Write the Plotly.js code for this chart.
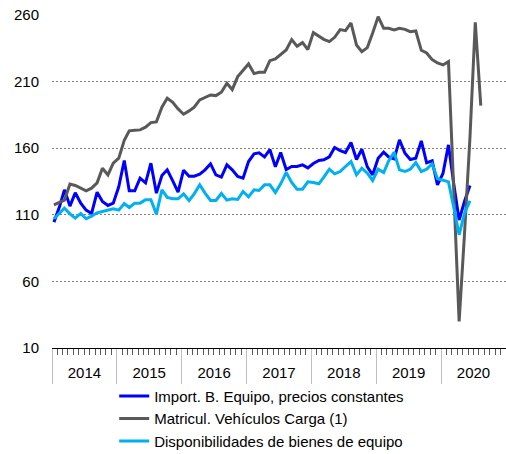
<!DOCTYPE html>
<html>
<head>
<meta charset="utf-8">
<script src="https://cdn.plot.ly/plotly-3.0.1.min.js"></script>
<style>
  html, body { margin: 0; padding: 0; background: #fff; }
  #chart { width: 506px; height: 454px; }
</style>
</head>
<body>
<div id="chart"></div>
<script>
// monthly series, Jan 2014 onwards
var importEquipo = [
    104.5, 116, 128.75, 116.5, 126.5, 118.75, 113.5, 111, 127, 120, 117, 118.75,
    131, 150.75, 128, 128, 137.5, 134, 148.75, 126.25, 139.5, 143.75, 135.5, 127,
    143.5, 139, 139, 140.5, 143.75, 148.25, 140, 138.25, 147.5, 143.75, 138.75, 137.5,
    150, 155.75, 156.5, 153.5, 159, 146, 156.75, 144, 146.25, 146.25, 147.5, 145.25,
    148.5, 150.75, 151.25, 153.5, 160.5, 158.25, 156.75, 164.25, 151.5, 159.25, 146, 140,
    152.5, 157, 153.5, 152, 166.25, 156.25, 151.5, 152.5, 165.5, 149, 150.5, 132.5,
    141, 162.5, 134, 106, 120, 132
];

var matriculCarga = [
    117.5, 119.5, 121, 133, 132, 130, 128, 130, 134, 145, 140, 148.75,
    152.5, 166, 173, 173.5, 173.75, 175.75, 179.25, 179.75, 190.75, 197.5, 194.5, 189.5,
    185.5, 188, 190.75, 196.25, 198, 200, 199.5, 202, 208.75, 204, 213.75, 218.75,
    223.25, 216, 217, 217, 225.75, 227, 230.5, 233.75, 241.5, 236.5, 239.25, 234,
    246.75, 244.25, 241.75, 240, 243.25, 249, 248.25, 254, 237.5, 232.5, 235.5, 246.5,
    258.75, 250, 250, 248.75, 250, 249.25, 247.5, 248, 233.5, 231.5, 226.5, 224,
    222.5, 225, 128, 30, 95, 168, 254.5, 192
];

var dispEquipo = [
    107, 111, 115, 110.75, 107.5, 111, 107, 109, 111.5, 112.5, 113.75, 114.5,
    113.5, 118.5, 115.5, 118.75, 118.75, 121.25, 121.25, 110.5, 128.75, 123, 122, 122,
    125.75, 120.75, 125.75, 132.5, 126.25, 120.75, 120.75, 126, 121, 122, 121.5, 127.5,
    123.5, 128.75, 128.25, 132.5, 132.5, 126.75, 133.25, 141.75, 134.25, 129.25, 129.25, 134.75,
    134.25, 133.25, 138.25, 144.25, 140.75, 142.5, 146.25, 150, 140, 145, 141.25, 135.75,
    144.25, 141.75, 150.5, 157, 143.75, 142.5, 144.25, 149.25, 142.5, 144.25, 148.25, 137,
    136, 134.75, 116, 95, 111, 120.5
];

var seriesNames = [
    "Import. B. Equipo, precios constantes",
    "Matricul. Vehículos Carga (1)",
    "Disponibilidades de bienes de equipo"
];
var yTicks = [10, 60, 110, 160, 210, 260];

var months = [];
for (var i = 0; i < matriculCarga.length; i++) {
    var yr = 2014 + Math.floor(i / 12);
    var mo = (i % 12) + 1;
    months.push(yr + "-" + String(mo).padStart(2, "0") + "-12");
}

var data = [
    {
        x: months.slice(0, importEquipo.length), y: importEquipo,
        name: seriesNames[0], type: "scatter", mode: "lines",
        line: { color: "#0000ff", width: 3 }
    },
    {
        x: months, y: matriculCarga,
        name: seriesNames[1], type: "scatter", mode: "lines",
        line: { color: "#595959", width: 3 }
    },
    {
        x: months.slice(0, dispEquipo.length), y: dispEquipo,
        name: seriesNames[2], type: "scatter", mode: "lines",
        line: { color: "#00b0f0", width: 3 }
    }
];

var layout = {
    width: 506,
    height: 454,
    margin: { l: 52, r: 0, t: 15, b: 106, autoexpand: false },
    paper_bgcolor: "#fff",
    plot_bgcolor: "#fff",
    font: { family: "Liberation Sans, Arial, sans-serif", size: 15, color: "#000" },
    showlegend: true,
    legend: {
        x: 0.137, xanchor: "left",
        y: -0.095, yanchor: "top",
        font: { size: 15, color: "#000" },
        bgcolor: "rgba(0,0,0,0)",
        tracegroupgap: 0
    },
    xaxis: {
        type: "date",
        range: ["2014-01-01", "2021-01-01"],
        tick0: "2014-01-01",
        dtick: "M12",
        tickformat: "%Y",
        ticklabelmode: "period",
        ticks: "outside",
        ticklen: 35,
        tickcolor: "#bfbfbf",
        tickwidth: 1,
        ticklabelstandoff: -24,
        showgrid: false,
        showline: true,
        linecolor: "#000",
        linewidth: 1,
        zeroline: false,
        minor: { dtick: "M1", ticks: "outside", ticklen: 6, tickcolor: "#595959", showgrid: false },
        fixedrange: true
    },
    yaxis: {
        range: [10, 260],
        tickvals: yTicks,
        ticks: "",
        ticklabelstandoff: 12,
        showgrid: true,
        gridcolor: "#808080",
        gridwidth: 1,
        griddash: "2px,2px",
        zeroline: false,
        showline: false,
        fixedrange: true
    }
};

Plotly.newPlot("chart", data, layout, { displayModeBar: false, staticPlot: true });
</script>
</body>
</html>
